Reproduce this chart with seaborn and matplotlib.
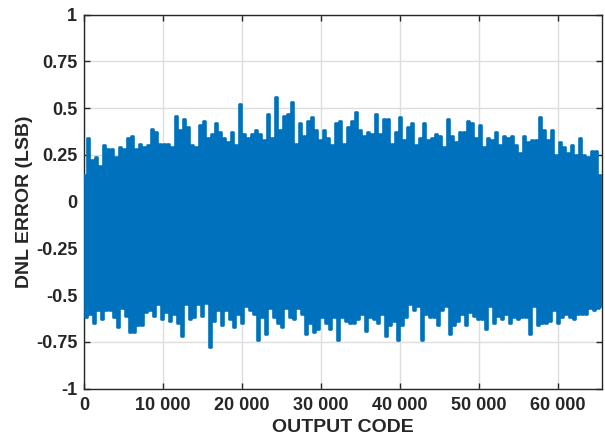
import numpy as np
import pandas as pd
import matplotlib
matplotlib.use("Agg")
import matplotlib.pyplot as plt
import seaborn as sns

# Upper envelope (spike tops) read across the code range, left to right
upper_env = [
    0.14, 0.34, 0.22, 0.24, 0.19, 0.30, 0.28, 0.28, 0.24, 0.29,
    0.28, 0.34, 0.35, 0.28, 0.31, 0.29, 0.30, 0.39, 0.37, 0.31,
    0.31, 0.31, 0.29, 0.46, 0.38, 0.44, 0.40, 0.30, 0.29, 0.41,
    0.43, 0.34, 0.36, 0.42, 0.37, 0.34, 0.32, 0.37, 0.30, 0.52,
    0.36, 0.34, 0.36, 0.38,
    0.36, 0.33, 0.47, 0.34, 0.56, 0.38, 0.46, 0.47, 0.53, 0.31,
    0.42, 0.35, 0.43, 0.45, 0.38, 0.33, 0.38, 0.34, 0.30, 0.42,
    0.43, 0.31, 0.40, 0.43, 0.48, 0.38, 0.35, 0.37, 0.36, 0.47,
    0.36, 0.44, 0.44, 0.31, 0.37, 0.45, 0.33, 0.40, 0.42, 0.30,
    0.34, 0.42, 0.33,
    0.34, 0.36, 0.35, 0.29, 0.44, 0.35, 0.32, 0.37, 0.37, 0.43,
    0.42, 0.34, 0.41, 0.29, 0.34, 0.33, 0.37, 0.30, 0.35, 0.34,
    0.35, 0.30, 0.26, 0.35, 0.32, 0.33, 0.33, 0.45, 0.38, 0.33,
    0.38, 0.25, 0.32, 0.29, 0.26, 0.30, 0.25, 0.34, 0.25, 0.24,
    0.27, 0.27, 0.14,
]

# Lower envelope (spike bottoms) read across the code range, left to right
lower_env = [
    -0.62, -0.60, -0.65, -0.58, -0.63, -0.58, -0.58, -0.62, -0.67, -0.57,
    -0.61, -0.70, -0.70, -0.66, -0.66, -0.59, -0.58, -0.61, -0.55, -0.63,
    -0.59, -0.64, -0.60, -0.65, -0.72, -0.55, -0.63, -0.62, -0.55, -0.61,
    -0.54, -0.78, -0.64, -0.58, -0.66, -0.58, -0.63, -0.67, -0.60, -0.65,
    -0.56, -0.58, -0.60, -0.74,
    -0.62, -0.71, -0.57, -0.62, -0.65, -0.67, -0.57, -0.62, -0.63, -0.57,
    -0.60, -0.71, -0.65, -0.70, -0.68, -0.62, -0.65, -0.68, -0.62, -0.74,
    -0.62, -0.64, -0.65, -0.65, -0.63, -0.60, -0.69, -0.62, -0.63, -0.65,
    -0.60, -0.72, -0.66, -0.64, -0.74, -0.66, -0.62, -0.55, -0.58, -0.56,
    -0.74, -0.60, -0.62,
    -0.62, -0.66, -0.58, -0.56, -0.71, -0.66, -0.64, -0.60, -0.66, -0.59,
    -0.61, -0.63, -0.63, -0.68, -0.56, -0.65, -0.61, -0.63, -0.60, -0.65,
    -0.62, -0.63, -0.62, -0.62, -0.71, -0.56, -0.66, -0.65, -0.65, -0.64,
    -0.58, -0.65, -0.62, -0.60, -0.62, -0.63, -0.60, -0.60, -0.60, -0.57,
    -0.58, -0.57, -0.56,
]

x_ticks = [0, 10000, 20000, 30000, 40000, 50000, 60000]
x_tick_labels = ["0", "10 000", "20 000", "30 000", "40 000", "50 000", "60 000"]
y_ticks = [-1, -0.75, -0.5, -0.25, 0, 0.25, 0.5, 0.75, 1]
y_tick_labels = ["-1", "-0.75", "-0.5", "-0.25", "0", "0.25", "0.5", "0.75", "1"]
max_code = 65535

# interleave the two envelopes into one DNL trace
dnl = []
for u, l in zip(upper_env, lower_env):
    dnl.extend([u, l])
codes = np.linspace(0, max_code, len(dnl))
df = pd.DataFrame({"code": codes, "dnl": dnl})

sns.set_theme(style="white")
plt.rcParams["font.family"] = ["Liberation Sans", "DejaVu Sans"]
plt.rcParams["font.weight"] = "bold"

fig = plt.figure(figsize=(6.05, 4.41), dpi=100)
ax = fig.add_axes([0.139, 0.119, 0.856, 0.848])

ax.grid(True, color="#dedede", linewidth=1.0, zorder=0)
ax.set_axisbelow(True)

sns.lineplot(data=df, x="code", y="dnl", ax=ax, color="#0072BD",
             linewidth=1.9, drawstyle="steps-mid", legend=False,
             estimator=None, sort=False, zorder=3)

ax.set_xlim(0, max_code)
ax.set_ylim(-1, 1)
ax.set_xticks(x_ticks)
ax.set_xticklabels(x_tick_labels)
ax.set_yticks(y_ticks)
ax.set_yticklabels(y_tick_labels)

ax.tick_params(axis="both", which="both", direction="in", length=4,
               width=1, colors="#262626", labelsize=13, top=True, right=True,
               bottom=True, left=True)
ax.tick_params(axis="x", pad=6)
ax.tick_params(axis="y", pad=5)
for lab in ax.get_xticklabels() + ax.get_yticklabels():
    lab.set_fontweight("bold")
    lab.set_color("#262626")

for sp in ax.spines.values():
    sp.set_visible(True)
    sp.set_color("#262626")
    sp.set_linewidth(1.0)

ax.set_xlabel("OUTPUT CODE", fontsize=14, fontweight="bold", color="#262626", labelpad=4)
ax.set_ylabel("DNL ERROR (LSB)", fontsize=14, fontweight="bold", color="#262626", labelpad=2)

fig.savefig("out.png", dpi=100)
